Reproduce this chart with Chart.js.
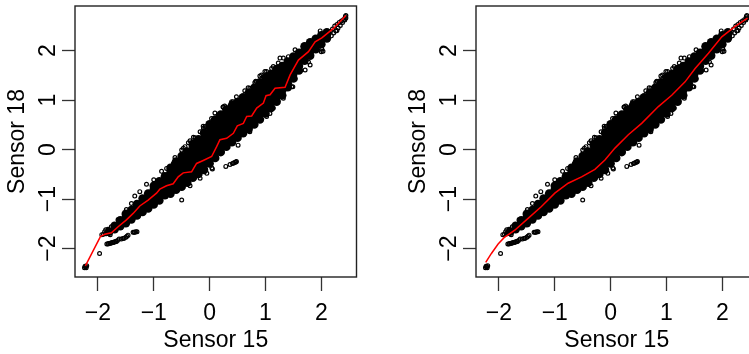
<!DOCTYPE html>
<html>
<head>
<meta charset="utf-8">
<script src="https://cdn.jsdelivr.net/npm/chart.js@4"></script>
<style>
html, body { margin: 0; padding: 0; background: #fff; overflow: hidden; width: 749px; height: 354px; }
canvas { position: absolute; top: 0; }
#left { left: 0; }
#right { left: 401px; }
</style>
</head>
<body>
<canvas id="left" width="375" height="354"></canvas>
<canvas id="right" width="375" height="354"></canvas>
<script>
var xTickValues = [-2, -1, 0, 1, 2];
var yTickValues = [-2, -1, 0, 1, 2];

// dense body of the cloud, one list of Sensor 18 values per Sensor 15 column
var coreX = [-1.8, -1.7, -1.6, -1.5, -1.4, -1.3, -1.2, -1.1, -1.0, -0.9, -0.8, -0.7, -0.6, -0.5, -0.4, -0.3, -0.2, -0.1,
    0, 0.1, 0.2, 0.3, 0.4, 0.5, 0.6, 0.7, 0.8, 0.9, 1.0, 1.1, 1.2, 1.3, 1.4, 1.5, 1.6, 1.7, 1.8, 1.9, 2.0, 2.1];
var coreY = [
    [-1.66], [-1.61, -1.54], [-1.55, -1.48, -1.43], [-1.49, -1.38, -1.30], [-1.41, -1.30, -1.22],
    [-1.33, -1.23, -1.12, -1.10], [-1.26, -1.17, -1.06, -0.99], [-1.19, -1.09, -0.98, -0.89],
    [-1.11, -1.03, -0.92, -0.81, -0.73], [-1.03, -0.93, -0.82, -0.71, -0.64], [-0.92, -0.85, -0.74, -0.63, -0.54],
    [-0.89, -0.79, -0.68, -0.57, -0.46, -0.37], [-0.81, -0.73, -0.62, -0.51, -0.40, -0.29, -0.24],
    [-0.75, -0.65, -0.54, -0.43, -0.32, -0.21, -0.13], [-0.67, -0.59, -0.48, -0.37, -0.26, -0.15, -0.04],
    [-0.57, -0.47, -0.36, -0.25, -0.14, -0.03, 0.08, 0.12], [-0.49, -0.41, -0.30, -0.19, -0.08, 0.03, 0.14, 0.21],
    [-0.41, -0.31, -0.20, -0.09, 0.02, 0.13, 0.24, 0.34], [-0.28, -0.20, -0.09, 0.02, 0.13, 0.24, 0.35, 0.46, 0.51],
    [-0.17, -0.07, 0.04, 0.15, 0.26, 0.37, 0.48, 0.59, 0.61], [-0.05, 0.04, 0.15, 0.26, 0.37, 0.48, 0.59, 0.71],
    [0.06, 0.16, 0.27, 0.38, 0.49, 0.60, 0.71, 0.81], [0.15, 0.24, 0.35, 0.46, 0.57, 0.68, 0.79, 0.89],
    [0.24, 0.34, 0.45, 0.56, 0.67, 0.78, 0.89, 0.96], [0.33, 0.42, 0.53, 0.64, 0.75, 0.86, 0.97, 1.06],
    [0.42, 0.52, 0.63, 0.74, 0.85, 0.96, 1.07, 1.15], [0.51, 0.60, 0.71, 0.82, 0.93, 1.04, 1.15, 1.25],
    [0.61, 0.71, 0.82, 0.93, 1.04, 1.15, 1.26, 1.36], [0.73, 0.82, 0.93, 1.04, 1.15, 1.26, 1.37, 1.46],
    [0.84, 0.94, 1.05, 1.16, 1.27, 1.38, 1.49, 1.53], [0.97, 1.06, 1.17, 1.28, 1.39, 1.50, 1.61, 1.63],
    [1.10, 1.20, 1.31, 1.42, 1.53, 1.64, 1.69], [1.26, 1.34, 1.45, 1.56, 1.67, 1.78], [1.44, 1.54, 1.65, 1.76, 1.88],
    [1.60, 1.69, 1.80, 1.91, 1.96], [1.80, 1.90, 2.01, 2.09], [1.90, 1.99, 2.10, 2.17], [2.03, 2.13, 2.24],
    [2.13, 2.22, 2.31], [2.25, 2.32, 2.37]
];

// open circles that stand out at the rim of the cloud, and the separate groups
var rimX = [-2.24, -2.22, -2.20, -2.23, -2.21, -1.97, -0.50, -1.34, -0.62,
    -1.84, -1.82, -1.81, -1.79, -1.77, -1.76, -1.74, -1.73, -1.71, -1.70, -1.68, -1.67, -1.65, -1.62, -1.58, -1.55, -1.53, -1.50, -1.48, -1.46, -1.37, -1.35, -1.34, -1.32, -1.30,
    0.29, 0.365, 0.41, 0.43, 0.45, 0.47, 0.48, 0.05, -0.05, -0.17, -0.35,
    1.14, 1.08, 1.02, 0.90, 1.32, 1.47, 1.53, 1.59, 1.71, 1.80, 1.77, 2.00, 2.01, 2.03, 2.28,
    1.53, 1.32, 1.23, 1.11, 1.02, 0.93, 0.825, 0.72, 0.63, 0.48, 0.395, 0.245, 0.305, 0.155, 0.035, -0.115, -0.17, -0.29, -0.38, -0.50,
    -0.65, -0.77, -0.86, -1.00, -1.13, -1.25, -1.40, -1.49, -1.64, -1.76, -1.86,
    -0.47, -0.26, -0.08, 0.065, 0.24, 0.39, 0.33, 0.57, 0.69, 0.84, 0.72, 0.51, 0.04,
    1.26, 1.41, 1.14, 1.98, 1.49,
    -1.93, -1.90, -1.88, -1.85, -1.82, -1.78,
    -0.44, -0.35, -0.11, 0.13, 0.095, 0.27, 0.42, 0.81, 0.90, 0.99,
    2.12, 2.16, 2.18, 2.20, 2.22, 2.24, 2.26, 2.28, 2.30, 2.32, 2.34, 2.36, 2.38, 2.40, 2.42, 2.43, 2.44, 2.44];
var rimY = [-2.39, -2.37, -2.35, -2.36, -2.39, -2.10, -1.02, -0.94, -0.16,
    -1.91, -1.91, -1.90, -1.90, -1.89, -1.89, -1.88, -1.88, -1.87, -1.87, -1.86, -1.86, -1.84, -1.81, -1.81, -1.80, -1.79, -1.77, -1.75, -1.73, -1.67, -1.67, -1.67, -1.66, -1.66,
    -0.34, -0.30, -0.28, -0.27, -0.26, -0.25, -0.24, -0.39, -0.48, -0.58, -0.73,
    0.84, 0.73, 0.67, 0.60, 1.04, 1.27, 1.43, 1.64, 1.61, 1.71, 1.77, 1.98, 2.03, 1.99, 2.41,
    2.02, 1.85, 1.75, 1.64, 1.58, 1.51, 1.38, 1.24, 1.19, 1.07, 0.97, 0.86, 0.80, 0.70, 0.63, 0.47, 0.36, 0.25, 0.14, -0.01,
    -0.28, -0.38, -0.44, -0.61, -0.70, -0.85, -1.09, -1.21, -1.42, -1.56, -1.62,
    0.03, 0.24, 0.465, 0.60, 0.86, 0.94, 0.84, 1.07, 1.25, 1.375, 0.36, 0.09, -0.37,
    1.85, 1.88, 1.68, 2.40, 1.27,
    -1.72, -1.71, -1.66, -1.70, -1.61, -1.72,
    0.06, 0.18, 0.43, 0.60, 0.74, 0.88, 0.97, 1.355, 1.49, 1.58,
    2.32, 2.39, 2.30, 2.44, 2.36, 2.50, 2.40, 2.53, 2.46, 2.57, 2.51, 2.60, 2.57, 2.63, 2.62, 2.69, 2.66, 2.71];

// red curves
var roughX = [-2.224, -1.955, -1.877, -1.758, -1.638, -1.489, -1.369, -1.25, -1.10, -0.951, -0.891, -0.771, -0.652, -0.562,
    -0.472, -0.323, -0.233, -0.114, 0.036, 0.126, 0.185, 0.305, 0.425, 0.496, 0.604, 0.664, 0.753, 0.843, 0.963, 1.01,
    1.082, 1.172, 1.351, 1.441, 1.59, 1.77, 1.889, 2.009, 2.218, 2.44];
var roughY = [-2.35, -1.76, -1.71, -1.68, -1.56, -1.42, -1.29, -1.14, -1.02, -0.88, -0.80, -0.73, -0.69, -0.55,
    -0.47, -0.45, -0.28, -0.22, -0.14, 0.06, 0.20, 0.23, 0.33, 0.48, 0.53, 0.67, 0.68, 0.84, 0.94, 1.09,
    1.11, 1.24, 1.26, 1.51, 1.81, 1.98, 2.18, 2.26, 2.45, 2.71];
var smoothX = [-2.236, -2.134, -2.014, -1.907, -1.716, -1.477, -1.238, -0.999, -0.760, -0.520, -0.281, -0.102, 0.078, 0.317,
    0.556, 0.855, 1.094, 1.333, 1.513, 1.752, 1.991, 2.230, 2.451];
var smoothY = [-2.28, -2.10, -1.91, -1.78, -1.63, -1.39, -1.15, -0.88, -0.68, -0.55, -0.40, -0.21, 0.03, 0.30,
    0.53, 0.87, 1.10, 1.37, 1.64, 1.95, 2.28, 2.49, 2.66];

function pairs(xs, ys) {
    return xs.map(function(x, i) { return { x: x, y: ys[i] }; });
}

var corePoints = [];
coreX.forEach(function(x, i) {
    coreY[i].forEach(function(y) { corePoints.push({ x: x, y: y }); });
});

// R style closed box round the plot
var boxPlugin = {
    id: 'box',
    afterDatasetsDraw: function(chart) {
        var a = chart.chartArea, c = chart.ctx;
        c.save();
        c.strokeStyle = '#222';
        c.lineWidth = 1.4;
        c.strokeRect(a.left, a.top, a.right - a.left, a.bottom - a.top);
        c.restore();
    }
};

function tickLabel(v) {
    return String(v).replace('-', '\u2212');
}

function makeChart(id, curveX, curveY) {
    var fontFace = { family: '"Liberation Sans", Arial, sans-serif', size: 23 };
    return new Chart(document.getElementById(id), {
        type: 'scatter',
        data: {
            datasets: [
                { data: pairs(curveX, curveY), showLine: true, borderColor: '#f00', borderWidth: 1.5, pointRadius: 0, tension: 0, order: 0 },
                { data: pairs(rimX, rimY), pointRadius: 1.9, borderWidth: 1.2, borderColor: '#000', backgroundColor: 'rgba(0,0,0,0)', order: 1 },
                { data: corePoints, pointRadius: 4.3, borderWidth: 0, backgroundColor: '#000', order: 2 }
            ]
        },
        plugins: [boxPlugin],
        options: {
            responsive: false,
            animation: false,
            layout: { padding: { top: 6, right: 18.5, left: 0, bottom: 0 } },
            plugins: { legend: { display: false }, tooltip: { enabled: false } },
            scales: {
                x: {
                    type: 'linear', min: -2.41, max: 2.63,
                    afterBuildTicks: function(s) { s.ticks = xTickValues.map(function(v) { return { value: v }; }); },
                    afterFit: function(s) { s.height = 77; s.paddingLeft = 0; s.paddingRight = 0; },
                    border: { display: false },
                    grid: { drawOnChartArea: false, tickLength: 14, tickColor: '#333', tickWidth: 1.3 },
                    ticks: { color: '#000', font: fontFace, padding: 9, maxRotation: 0, autoSkip: false, callback: tickLabel },
                    title: { display: true, text: 'Sensor 15', color: '#000', font: fontFace, padding: 0 }
                },
                y: {
                    type: 'linear', min: -2.576, max: 2.904,
                    afterBuildTicks: function(s) { s.ticks = yTickValues.map(function(v) { return { value: v }; }); },
                    afterFit: function(s) { s.width = 75; s.paddingTop = 0; s.paddingBottom = 0; },
                    border: { display: false },
                    grid: { drawOnChartArea: false, tickLength: 13, tickColor: '#333', tickWidth: 1.3 },
                    ticks: { color: '#000', font: fontFace, padding: 0, minRotation: 90, maxRotation: 90, crossAlign: 'center', autoSkip: false, callback: tickLabel },
                    title: { display: true, text: 'Sensor 18', color: '#000', font: fontFace, padding: 4 }
                }
            }
        }
    });
}

makeChart('left', roughX, roughY);
makeChart('right', smoothX, smoothY);
</script>
</body>
</html>
